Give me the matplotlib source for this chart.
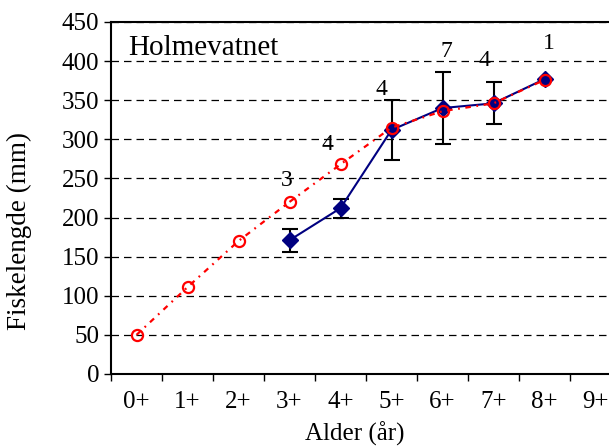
import numpy as np
import matplotlib
matplotlib.use("Agg")
from matplotlib import pyplot as plt

ages = ['0+', '1+', '2+', '3+', '4+', '5+', '6+', '7+', '8+', '9+']
modelled = [50, 111, 170, 220, 268, 315, 336, 346, 376]
measured = [np.nan, np.nan, np.nan, 171, 212, 312, 340, 346, 377]
measured_sd = [np.nan, np.nan, np.nan, 15, 12, 38, 46, 27, np.nan]
counts = [3, 4, 4, 7, 4, 1]
count_ages = [3, 4, 5, 6, 7, 8]

# where the count labels sit (data coords)
label_dx = [-0.05, -0.26, -0.19, 0.07, -0.17, 0.09]
label_y = [248, 293, 364, 412, 401, 422]

plt.rcParams['font.family'] = ['Liberation Serif', 'DejaVu Serif']

fig = plt.figure(figsize=(6.09, 4.46), dpi=100)
ax = fig.add_axes([111 / 609, 1 - 374 / 446, 510 / 609, 352 / 446])

x_mod = np.arange(len(modelled)) + 0.5
x_meas = np.arange(len(measured)) + 0.5

ax.errorbar(x_meas, measured, yerr=measured_sd, fmt='none', ecolor='black',
            elinewidth=1.5, capsize=6, capthick=1.5, zorder=3)
ax.plot(x_meas, measured, color='#000080', linewidth=1.5, marker='D',
        markersize=8.5, markerfacecolor='#000080', markeredgecolor='#000080', zorder=4)
ax.plot(x_mod, modelled, color='red', linewidth=1.6, linestyle=(0, (2.5, 2.5, 0.8, 2.5)),
        marker='o', markersize=8, markerfacecolor='none', markeredgecolor='red',
        markeredgewidth=1.6, zorder=5)

for a, n, dx, ly in zip(count_ages, counts, label_dx, label_y):
    ax.text(a + 0.5 + dx, ly, str(n), ha='center', va='center', fontsize=17)

ax.text(0.033, 0.906, 'Holmevatnet', transform=ax.transAxes, fontsize=21,
        ha='left', va='baseline')

ax.set_xlim(0, 10)
ax.set_ylim(0, 450)
ax.set_yticks(np.arange(0, 451, 50))
ax.set_xticks(np.arange(0, 11))
ax.set_xticklabels([])
ax.set_xticks(np.arange(len(ages)) + 0.5, minor=True)
ax.set_xticklabels(ages, minor=True)
ax.tick_params(axis='x', which='minor', length=0, pad=12, labelsize=18)
ax.tick_params(axis='x', which='major', length=5, width=1, direction='out')
ax.tick_params(axis='y', length=5, width=1, direction='out', labelsize=18, pad=3.5)

ax.grid(axis='y', color='black', linestyle=(0, (6, 4)), linewidth=0.9)
ax.set_axisbelow(True)
for side in ['left', 'bottom', 'top']:
    ax.spines[side].set_linewidth(1.5)
ax.spines['right'].set_visible(False)

ax.set_xlabel('Alder (år)', fontsize=18)
ax.xaxis.set_label_coords(0.478, -0.188)
ax.xaxis.label.set_verticalalignment('baseline')
ax.set_ylabel('Fiskelengde (mm)', fontsize=19.5)
ax.yaxis.set_label_coords(-0.18, 0.406)
ax.yaxis.label.set_verticalalignment('center')

fig.savefig('out.png', dpi=100)
